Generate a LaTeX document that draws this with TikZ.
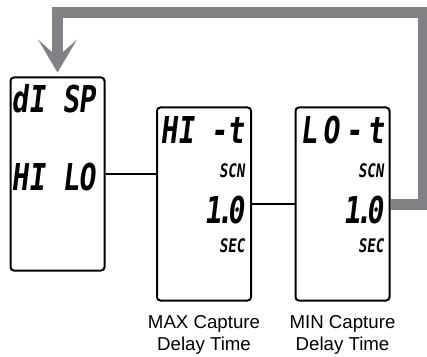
\documentclass[tikz,border=0pt]{standalone}
\usepackage{fontspec}
\setmainfont{Liberation Sans}
\newfontfamily\segfont[FakeSlant=0.12,FakeStretch=0.76]{DejaVu Sans Mono}
\newfontfamily\segwide[FakeSlant=0.12,FakeStretch=0.76,LetterSpace=15]{DejaVu Sans Mono}
\usetikzlibrary{arrows.meta}

\definecolor{loopgray}{RGB}{128,130,133}

\begin{document}
\begin{tikzpicture}[x=0.75pt, y=-0.75pt,
  panel/.style={draw=black, line width=1.5pt, rounded corners=2.5pt,
    minimum width=70.5pt, minimum height=144.75pt, inner sep=0pt},
  link/.style={line width=1.1pt, draw=black},
  big/.style={font=\segfont\bfseries\fontsize{27.75}{30}\selectfont, inner sep=0pt},
  bigwide/.style={font=\segwide\bfseries\fontsize{27.75}{30}\selectfont, inner sep=0pt},
  small/.style={font=\segfont\bfseries\fontsize{14}{16}\selectfont, inner sep=0pt},
  label/.style={font=\fontsize{14}{16.5}\selectfont, align=center, inner sep=0pt},
  feedback/.style={line width=8.25pt, draw=loopgray},
]
\useasboundingbox (0,0) rectangle (427,356);

% Displays
\node[panel] (disp) at (57.5,174) {};
\node[panel] (maxt) at (204,204) {};
\node[panel] (mint) at (342.5,204) {};

\node[big, anchor=base west] (dispA) at (11,113) {dI SP};
\node[big, anchor=base west] (dispB) at (11,190) {HI LO};

\node[big, anchor=base east] (maxA) at (245,143) {HI -t};
\node[small, anchor=base east] (maxB) at (245,177) {SCN};
\node[big, anchor=base east] (maxC) at (245,223) {1\kern-4pt.\kern-4pt0};
\node[small, anchor=base east] (maxD) at (245,252) {SEC};

\node[bigwide, anchor=base east] (minA) at (385,143) {LO-t};
\node[small, anchor=base east] (minB) at (384,177) {SCN};
\node[big, anchor=base east] (minC) at (384,223) {1\kern-4pt.\kern-4pt0};
\node[small, anchor=base east] (minD) at (384,252) {SEC};

% Links
\draw[link] (disp.east) -- (disp.east -| maxt.west);
\draw[link] (maxt.east) -- (mint.west);

% Loop back
\coordinate (tip) at ([yshift=3pt]disp.north);
\draw[feedback] (mint.east) -- ++(33,0) |- ([yshift=48pt]disp.north)
  -- ([yshift=13pt]disp.north);
\fill[loopgray] (tip) -- ++(-19.5,-33) -- ++(19.5,17.5) -- ++(19.5,-17.5) -- cycle;

% Captions
\node[label, anchor=north] (maxcap) at (maxt.south |- 0,315) {MAX Capture\\Delay Time};
\node[label, anchor=north] (mincap) at (mint.south |- 0,315) {MIN Capture\\Delay Time};

\end{tikzpicture}
\end{document}
